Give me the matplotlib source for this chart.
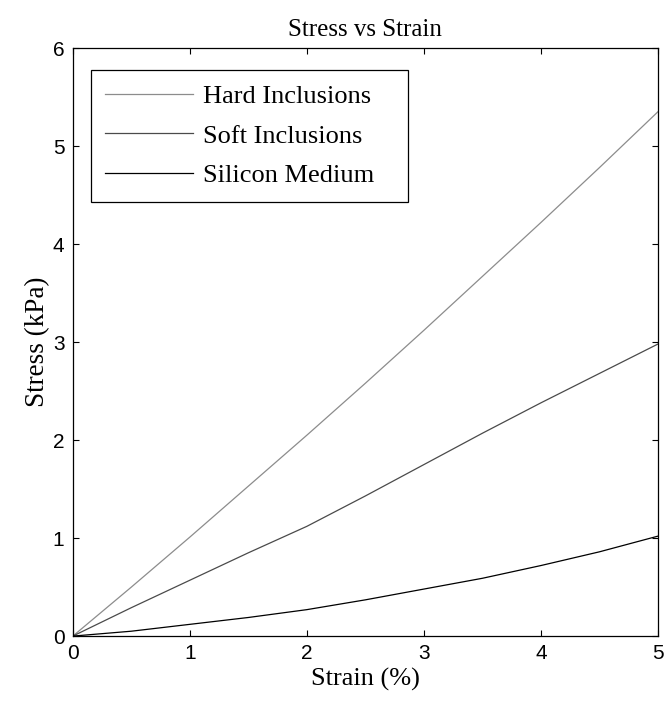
import numpy as np
from matplotlib import pyplot as plt

################################################################################
### Data
################################################################################

strain = [0, 0.5, 1.0, 1.5, 2.0, 2.5, 3.0, 3.5, 4.0, 4.5, 5.0]

hard = [0, 0.50, 1.01, 1.53, 2.05, 2.58, 3.12, 3.67, 4.22, 4.78, 5.35]
soft = [0, 0.29, 0.57, 0.85, 1.12, 1.43, 1.75, 2.07, 2.38, 2.68, 2.98]
silicon = [0, 0.05, 0.12, 0.19, 0.27, 0.37, 0.48, 0.59, 0.72, 0.86, 1.02]

labels = ['Hard Inclusions', 'Soft Inclusions', 'Silicon Medium']

################################################################################
### Plotting
################################################################################

serif = 'Liberation Serif'
sans = 'Liberation Sans'

fig = plt.figure(figsize=(6.68, 7.06), dpi=100)
ax = fig.add_axes([0.109, 0.099, 0.876, 0.833])

ax.plot(strain, hard, color='#8c8c8c', lw=0.9, label=labels[0])
ax.plot(strain, soft, color='#4a4a4a', lw=0.9, label=labels[1])
ax.plot(strain, silicon, color='black', lw=0.9, label=labels[2])

ax.set_xlim(0, 5)
ax.set_ylim(0, 6)
ax.set_xticks(np.arange(0, 6, 1))
ax.set_yticks(np.arange(0, 7, 1))

ax.tick_params(direction='in', top=True, right=True, length=4.5, width=0.8,
               labelsize=15, pad=6)
for lab in ax.get_xticklabels() + ax.get_yticklabels():
    lab.set_fontfamily(sans)
for s in ax.spines.values():
    s.set_linewidth(0.9)

ax.set_title('Stress vs Strain', fontfamily=serif, fontsize=18, pad=9)
ax.set_xlabel('Strain (%)', fontfamily=serif, fontsize=19, labelpad=3)
ax.set_ylabel('Stress (kPa)', fontfamily=serif, fontsize=19.5, labelpad=2)

leg = ax.legend(loc='upper left', bbox_to_anchor=(0.031, 0.738, 0.542, 0.225),
                mode='expand', borderaxespad=0, fancybox=False,
                edgecolor='black', framealpha=1,
                prop={'family': serif, 'size': 19},
                handlelength=3.3, handletextpad=0.4, labelspacing=0.62,
                borderpad=0.55)
leg.get_frame().set_linewidth(0.9)

fig.savefig('out.png', dpi=100)
